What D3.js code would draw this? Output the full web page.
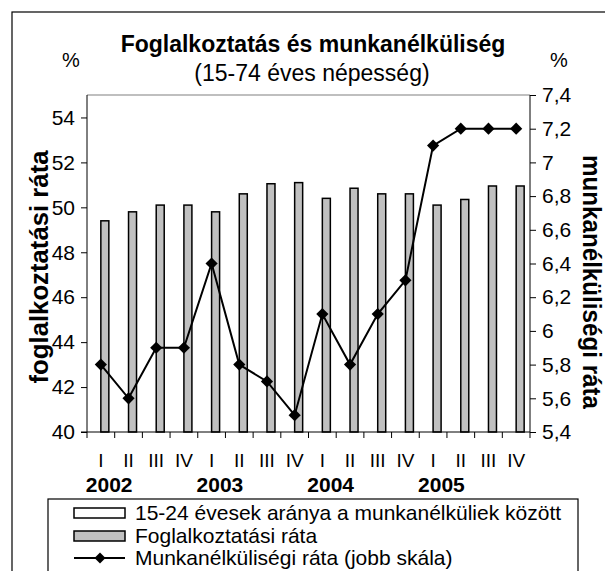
<!DOCTYPE html>
<html><head><meta charset="utf-8">
<script src="https://cdn.jsdelivr.net/npm/d3@7"></script>
<style>body{margin:0;background:#fff}svg{display:block}text{font-family:"Liberation Sans",Arial,sans-serif;fill:#000}</style>
</head><body>
<svg id="c" width="605" height="571"></svg>
<script>
const quarters = ["I","II","III","IV","I","II","III","IV","I","II","III","IV","I","II","III","IV"];
const years = ["2002","2003","2004","2005"];
const employment = [49.4,49.8,50.1,50.1,49.8,50.6,51.05,51.1,50.4,50.85,50.6,50.6,50.1,50.35,50.95,50.95];
const unemployment = [5.8,5.6,5.9,5.9,6.4,5.8,5.7,5.5,6.1,5.8,6.1,6.3,7.1,7.2,7.2,7.2];
const youthShare = quarters.map(()=>null);
const leftTicks = [40,42,44,46,48,50,52,54];
const rightTicks = [5.4,5.6,5.8,6,6.2,6.4,6.6,6.8,7,7.2,7.4];
const legendLabels = ["15-24 évesek aránya a munkanélküliek között","Foglalkoztatási ráta","Munkanélküliségi ráta (jobb skála)"];

const svg = d3.select("#c");
const L=87,R=530,T=95,B=432;
const idx = d3.range(quarters.length);
const x = d3.scaleBand().domain(idx).range([L,R]).paddingInner(0).paddingOuter(0);
const bw = x.bandwidth();
const yL = d3.scaleLinear().domain([40,55]).range([B,T]);
const yR = d3.scaleLinear().domain([5.4,7.4]).range([B,T]);
const barW = 8;
const FF = "Liberation Sans, Arial, sans-serif";

// outer frame
svg.append("rect").attr("x",12).attr("y",12).attr("width",700).attr("height",700).attr("fill","none").attr("stroke","#000").attr("stroke-width",1.2);

// plot top border
svg.append("line").attr("x1",L).attr("x2",R).attr("y1",T).attr("y2",T).attr("stroke","#808080").attr("stroke-width",1.2);

// bars
svg.append("g").selectAll("rect").data(employment).join("rect")
  .attr("x",(d,i)=>x(i)+bw/2).attr("width",barW)
  .attr("y",d=>yL(d)).attr("height",d=>B-yL(d))
  .attr("fill","#c0c0c0").attr("stroke","#000").attr("stroke-width",1.5);

// left axis
const gl = svg.append("g").attr("transform",`translate(${L},0)`)
  .call(d3.axisLeft(yL).tickValues(leftTicks).tickSize(6).tickSizeOuter(0).tickFormat(d3.format("d")));
gl.select(".domain").attr("d",`M0,${T}V${B}`);
gl.selectAll("text").attr("font-size",21).attr("dx",-3).attr("font-family",FF);

// right axis
const gr = svg.append("g").attr("transform",`translate(${R},0)`)
  .call(d3.axisRight(yR).tickValues(rightTicks).tickSize(6).tickSizeOuter(0).tickFormat(d=>String(+d.toFixed(1)).replace(".",",")));
gr.select(".domain").attr("d",`M0,${T}V${B}`);
gr.selectAll("text").attr("font-size",21).attr("dx",3).attr("font-family",FF);

// bottom axis with ticks between categories
const gb = svg.append("g");
gb.append("line").attr("x1",L-6).attr("x2",R).attr("y1",B).attr("y2",B).attr("stroke","#000");
gb.selectAll("line.t").data(d3.range(quarters.length+1)).join("line").attr("class","t")
  .attr("x1",i=>L+i*bw).attr("x2",i=>L+i*bw).attr("y1",B).attr("y2",B+6).attr("stroke","#000");
gb.selectAll("text.q").data(quarters).join("text").attr("class","q")
  .attr("x",(d,i)=>x(i)+bw/2).attr("y",467).attr("text-anchor","middle").attr("font-size",19).text(d=>d);
gb.selectAll("text.y").data(years).join("text").attr("class","y")
  .attr("x",(d,i)=>x(i*4)+bw*0.8).attr("y",492).attr("text-anchor","middle").attr("font-size",21).attr("font-weight","bold").text(d=>d);

// line
const line = d3.line().x((d,i)=>x(i)+bw/2).y(d=>yR(d));
svg.append("path").datum(unemployment).attr("d",line).attr("fill","none").attr("stroke","#000").attr("stroke-width",2);
svg.append("g").selectAll("path").data(unemployment).join("path")
  .attr("d",d3.symbol().type(d3.symbolSquare).size(74)).attr("transform",(d,i)=>`translate(${x(i)+bw/2},${yR(d)}) rotate(45)`)
  .attr("fill","#000");

// titles
svg.append("text").attr("x",313).attr("y",52).attr("text-anchor","middle").attr("font-size",23).attr("font-weight","bold").text("Foglalkoztatás és munkanélküliség");
svg.append("text").attr("x",312).attr("y",81).attr("text-anchor","middle").attr("font-size",23).text("(15-74 éves népesség)");
svg.append("text").attr("x",71).attr("y",67).attr("text-anchor","middle").attr("font-size",20).text("%");
svg.append("text").attr("x",559).attr("y",67).attr("text-anchor","middle").attr("font-size",20).text("%");
svg.append("text").attr("transform","translate(48,267) rotate(-90)").attr("text-anchor","middle").attr("font-size",25).attr("font-weight","bold")
  .attr("textLength",233).attr("lengthAdjust","spacingAndGlyphs").text("foglalkoztatási ráta");
svg.append("text").attr("transform","translate(583,282) rotate(90)").attr("text-anchor","middle").attr("font-size",25).attr("font-weight","bold")
  .attr("textLength",254).attr("lengthAdjust","spacingAndGlyphs").text("munkanélküliségi ráta");

// legend
const lg = svg.append("g");
lg.append("rect").attr("x",48).attr("y",499).attr("width",530).attr("height",100).attr("fill","#fff").attr("stroke","#000").attr("stroke-width",1.2);
lg.append("rect").attr("x",74).attr("y",508).attr("width",51).attr("height",10).attr("fill","#fff").attr("stroke","#000").attr("stroke-width",1.5);
lg.append("rect").attr("x",74).attr("y",531).attr("width",51).attr("height",10).attr("fill","#c0c0c0").attr("stroke","#000").attr("stroke-width",1.5);
lg.append("line").attr("x1",74).attr("x2",125).attr("y1",558).attr("y2",558).attr("stroke","#000").attr("stroke-width",2);
lg.append("path").attr("d",d3.symbol().type(d3.symbolSquare).size(60)).attr("transform","translate(100,558) rotate(45)").attr("fill","#000");
lg.selectAll("text").data(legendLabels).join("text").attr("x",135).attr("y",(d,i)=>520+i*22.5).attr("font-size",21).text(d=>d);
</script>
</body></html>
